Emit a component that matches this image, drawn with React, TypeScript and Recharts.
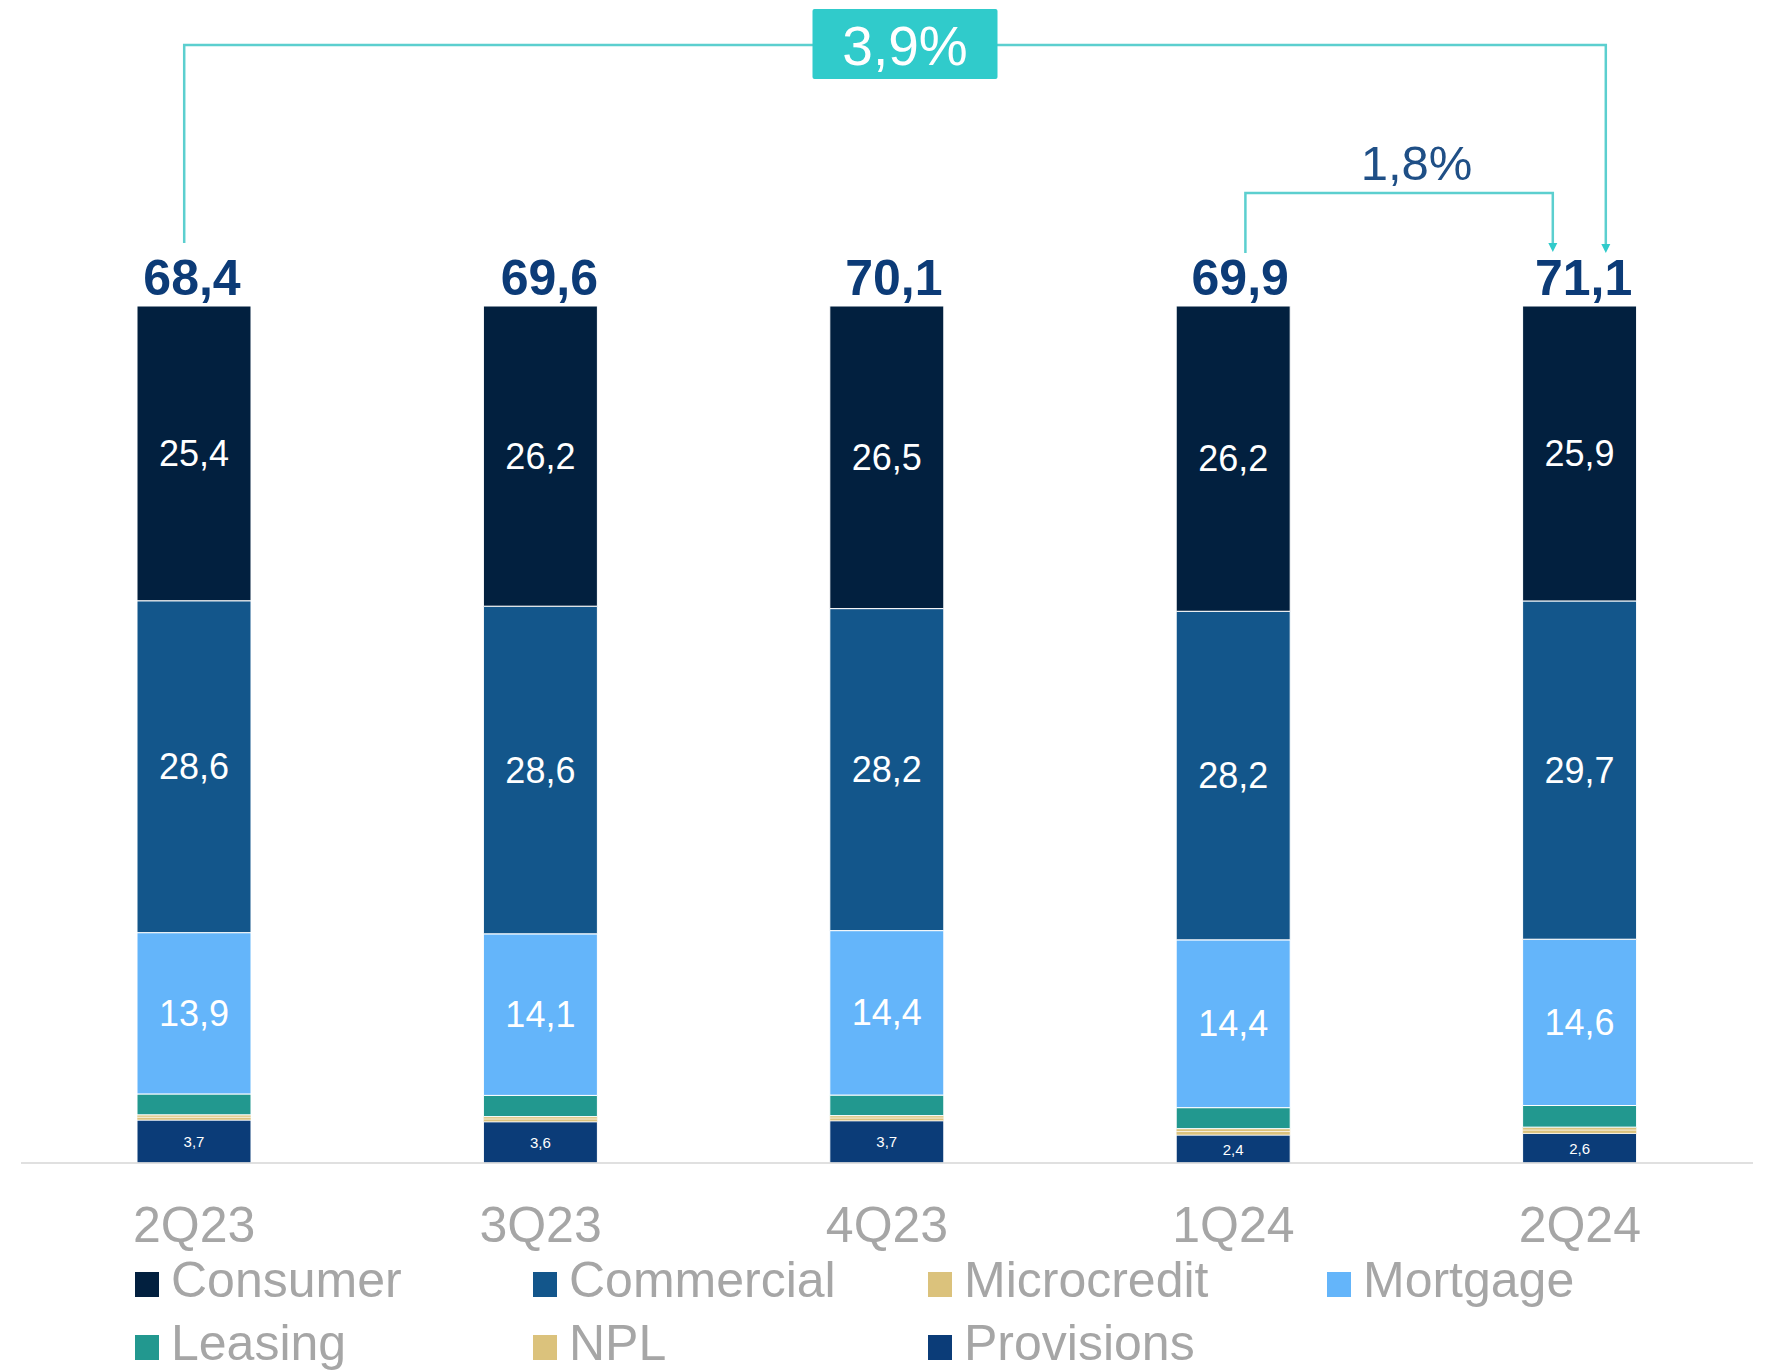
import React from 'react';
import { BarChart, Bar, XAxis, YAxis, LabelList, ReferenceLine } from 'recharts';

const quarters = ['2Q23', '3Q23', '4Q23', '1Q24', '2Q24'];
const consumer = [25.4, 26.2, 26.5, 26.2, 25.9];
const commercial = [28.6, 28.6, 28.2, 28.2, 29.7];
const mortgage = [13.9, 14.1, 14.4, 14.4, 14.6];
const leasing = [1.8, 1.85, 1.8, 1.8, 1.9];
const microcredit = [0.2, 0.2, 0.2, 0.25, 0.25];
const npl = [0.25, 0.25, 0.25, 0.3, 0.3];
const provisions = [3.7, 3.6, 3.7, 2.4, 2.6];
const totals = [68.4, 69.6, 70.1, 69.9, 71.1];

const growthFull = { from: '2Q23', to: '2Q24', label: '3,9%' };
const growthQoQ = { from: '1Q24', to: '2Q24', label: '1,8%' };

const C = {
  consumer: '#02203f',
  commercial: '#13568b',
  mortgage: '#64b5fa',
  leasing: '#22988f',
  tan: '#dbc27c',
  provisions: '#0b3c78',
  total: '#0c3b77',
  teal: '#30cbcb',
  tealLine: '#5ccfcf',
  gray: '#a6a6a6',
};

const FONT = '"Liberation Sans", Arial, sans-serif';

// small horizontal nudges of the total labels, as placed in the original slide
const totalDx = [-2, 9, 7, 7, 4];

const data = quarters.map((q, i) => ({
  quarter: q,
  provisions: provisions[i],
  npl: npl[i],
  microcredit: microcredit[i],
  leasing: leasing[i],
  mortgage: mortgage[i],
  commercial: commercial[i],
  consumer: consumer[i],
}));

const legendItems = [
  { name: 'Consumer', color: C.consumer },
  { name: 'Commercial', color: C.commercial },
  { name: 'Microcredit', color: C.tan },
  { name: 'Mortgage', color: C.mortgage },
  { name: 'Leasing', color: C.leasing },
  { name: 'NPL', color: C.tan },
  { name: 'Provisions', color: C.provisions },
];

const fmt = (v: number) => v.toFixed(1).replace('.', ',');

const makeInnerLabel = (values: number[], size: number) => (props: any) => {
  const { x, y, width, height, index } = props;
  const cx = Number(x) + Number(width) / 2;
  const cy = Number(y) + Number(height) / 2;
  return (
    <text
      x={cx}
      y={cy}
      textAnchor="middle"
      dominantBaseline="central"
      fill="#ffffff"
      fontFamily={FONT}
      fontSize={size}
    >
      {fmt(values[index])}
    </text>
  );
};

const TotalLabel = (props: any) => {
  const { x, y, width, index } = props;
  return (
    <text
      x={Number(x) + Number(width) / 2 + (totalDx[index] || 0)}
      y={Number(y) - 11}
      textAnchor="middle"
      fill={C.total}
      fontFamily={FONT}
      fontWeight="bold"
      fontSize={50}
    >
      {fmt(totals[index])}
    </text>
  );
};

const XTick = (props: any) => {
  const { x, y, payload } = props;
  return (
    <text
      x={Number(x)}
      y={Number(y) + 79}
      textAnchor="middle"
      fill={C.gray}
      fontFamily={FONT}
      fontSize={50}
    >
      {payload.value}
    </text>
  );
};

const arrow = (x: number, tipY: number) => (
  <polygon points={`${x - 4.5},${tipY - 9} ${x + 4.5},${tipY - 9} ${x},${tipY}`} fill={C.teal} />
);

const BigBracket = (props: any) => {
  const x1 = Number(props.x1);
  const x2 = Number(props.x2);
  const top = Math.min(Number(props.y1), Number(props.y2));
  const lx = x1 - 10;
  const rx = x2 + 26;
  const hy = top - 261;
  const bx = (x1 + x2) / 2 + 18;
  return (
    <g>
      <polyline
        points={`${lx},${top - 63} ${lx},${hy} ${rx},${hy} ${rx},${top - 61}`}
        fill="none"
        stroke={C.tealLine}
        strokeWidth={2.5}
      />
      {arrow(rx, top - 53)}
      <rect x={bx - 92.5} y={top - 297} width={185} height={70} rx={2} fill={C.teal} />
      <text
        x={bx}
        y={top - 241}
        textAnchor="middle"
        fill="#ffffff"
        fontFamily={FONT}
        fontSize={55}
      >
        {growthFull.label}
      </text>
    </g>
  );
};

const SmallBracket = (props: any) => {
  const x1 = Number(props.x1);
  const x2 = Number(props.x2);
  const top = Math.min(Number(props.y1), Number(props.y2));
  const lx = x1 + 12;
  const rx = x2 - 27;
  const hy = top - 113;
  return (
    <g>
      <polyline
        points={`${lx},${top - 53} ${lx},${hy} ${rx},${hy} ${rx},${top - 62}`}
        fill="none"
        stroke={C.tealLine}
        strokeWidth={2.5}
      />
      {arrow(rx, top - 54)}
      <text
        x={(x1 + x2) / 2 + 10}
        y={top - 126}
        textAnchor="middle"
        fill="#1f4f86"
        fontFamily={FONT}
        fontSize={49}
      >
        {growthQoQ.label}
      </text>
    </g>
  );
};

const legendCols = [135, 533, 928, 1327];
const legendRows = [1297, 1360];

export default function App() {
  return (
    <div
      style={{
        position: 'absolute',
        left: 0,
        top: 0,
        width: 1766,
        height: 1372,
        background: '#ffffff',
        overflow: 'hidden',
      }}
    >
      <BarChart
        width={1766}
        height={1300}
        data={data}
        stackOffset="expand"
        margin={{ top: 306, right: 13, left: 21, bottom: 0 }}
        barSize={114}
      >
        <XAxis
          dataKey="quarter"
          height={137}
          tickLine={false}
          tickSize={0}
          tickMargin={0}
          axisLine={{ stroke: '#d6d6d6', strokeWidth: 1.5 }}
          tick={<XTick />}
          interval={0}
        />
        <YAxis
          width={0}
          domain={[0, 1]}
          tick={false}
          tickLine={false}
          axisLine={{ stroke: '#e4e4e4', strokeWidth: 1.5 }}
        />
        <Bar dataKey="provisions" stackId="a" fill={C.provisions} stroke="#ffffff" strokeWidth={1} isAnimationActive={false}>
          <LabelList content={makeInnerLabel(provisions, 15)} />
        </Bar>
        <Bar dataKey="npl" stackId="a" fill={C.tan} stroke="#ffffff" strokeWidth={0.6} isAnimationActive={false} />
        <Bar dataKey="microcredit" stackId="a" fill={C.tan} stroke="#ffffff" strokeWidth={0.6} isAnimationActive={false} />
        <Bar dataKey="leasing" stackId="a" fill={C.leasing} stroke="#ffffff" strokeWidth={1} isAnimationActive={false} />
        <Bar dataKey="mortgage" stackId="a" fill={C.mortgage} stroke="#ffffff" strokeWidth={1} isAnimationActive={false}>
          <LabelList content={makeInnerLabel(mortgage, 36)} />
        </Bar>
        <Bar dataKey="commercial" stackId="a" fill={C.commercial} stroke="#ffffff" strokeWidth={1} isAnimationActive={false}>
          <LabelList content={makeInnerLabel(commercial, 36)} />
        </Bar>
        <Bar dataKey="consumer" stackId="a" fill={C.consumer} stroke="#ffffff" strokeWidth={1} isAnimationActive={false}>
          <LabelList content={makeInnerLabel(consumer, 36)} />
          <LabelList content={<TotalLabel />} />
        </Bar>
        <ReferenceLine
          segment={[
            { x: growthFull.from, y: 1 },
            { x: growthFull.to, y: 1 },
          ]}
          ifOverflow="visible"
          shape={(p: any) => <BigBracket {...p} />}
        />
        <ReferenceLine
          segment={[
            { x: growthQoQ.from, y: 1 },
            { x: growthQoQ.to, y: 1 },
          ]}
          ifOverflow="visible"
          shape={(p: any) => <SmallBracket {...p} />}
        />
      </BarChart>
      <svg
        width={1766}
        height={1372}
        style={{ position: 'absolute', left: 0, top: 0, pointerEvents: 'none' }}
      >
        {legendItems.map((item, i) => {
          const col = i < 4 ? i : i - 4;
          const row = i < 4 ? 0 : 1;
          const lx = legendCols[col];
          const base = legendRows[row];
          return (
            <g key={item.name}>
              <rect x={lx} y={base - 25} width={24} height={25} fill={item.color} />
              <text x={lx + 36} y={base} fill={C.gray} fontFamily={FONT} fontSize={50}>
                {item.name}
              </text>
            </g>
          );
        })}
      </svg>
    </div>
  );
}
